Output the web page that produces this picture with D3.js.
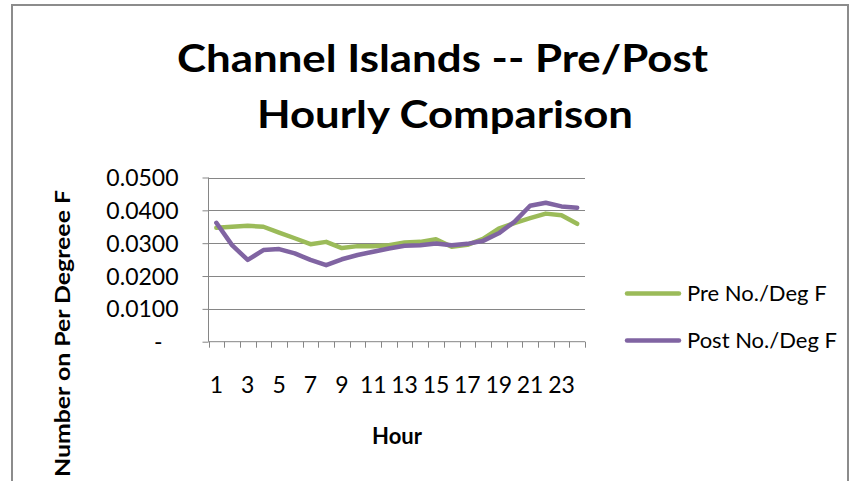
<!DOCTYPE html>
<html>
<head>
<meta charset="utf-8">
<script src="https://cdn.jsdelivr.net/npm/d3@7"></script>
<style>
  html, body { margin: 0; padding: 0; background: #fff; }
  svg { display: block; }
  text { font-family: Lato, "Open Sans", sans-serif; fill: #000; }
</style>
</head>
<body>
<svg id="chart" width="862" height="481"></svg>
<script>
const hours = d3.range(1, 25);
const preValues = [0.0347, 0.0350, 0.0353, 0.0350, 0.0332, 0.0315, 0.0297, 0.0304, 0.0285, 0.0291,
                   0.0291, 0.0294, 0.0302, 0.0304, 0.0312, 0.0289, 0.0295, 0.0313, 0.0344, 0.0361,
                   0.0376, 0.0390, 0.0385, 0.0359];
const postValues = [0.0362, 0.0294, 0.0249, 0.0279, 0.0282, 0.0269, 0.0249, 0.0233, 0.0251, 0.0264,
                    0.0274, 0.0284, 0.0292, 0.0294, 0.0299, 0.0294, 0.0298, 0.0307, 0.0330, 0.0365,
                    0.0414, 0.0423, 0.0412, 0.0408];
const yTicks = [0, 0.01, 0.02, 0.03, 0.04, 0.05];
const seriesNames = ["Pre No./Deg F", "Post No./Deg F"];
const titleLines = ["Channel Islands -- Pre/Post", "Hourly Comparison"];

const colors = ["#9BBB59", "#8064A2"];
const svg = d3.select("#chart");

// outer chart frame
svg.append("rect").attr("x", 12).attr("y", 5).attr("width", 836).attr("height", 500)
  .attr("fill", "#fff").attr("stroke", "#8c8c8c").attr("stroke-width", 2);

const pLeft = 208.5, pRight = 585, pTop = 177.5, pBottom = 341.7;
const x = d3.scaleBand().domain(hours).range([pLeft, pRight]);
const y = d3.scaleLinear().domain([0, 0.05]).range([pBottom, pTop]);

// gridlines
svg.append("g").selectAll("line").data(yTicks.filter(d => d > 0)).join("line")
  .attr("x1", pLeft).attr("x2", pRight)
  .attr("y1", d => Math.round(y(d)) + 0.5).attr("y2", d => Math.round(y(d)) + 0.5)
  .attr("stroke", "#868686").attr("stroke-width", 1);

// y axis
const yAxis = d3.axisLeft(y).tickValues(yTicks).tickSize(6)
  .tickFormat(d => d === 0 ? "-" : d3.format(".4f")(d));
const gy = svg.append("g").attr("transform", `translate(${pLeft},0)`).call(yAxis);
gy.select(".domain").attr("stroke", "#868686").attr("d", `M0,${pTop}V${pBottom}`);
gy.selectAll(".tick line").attr("stroke", "#868686");
gy.selectAll(".tick text").attr("font-family", "Lato, sans-serif").attr("font-size", 23)
  .attr("fill", "#000").attr("x", d => d === 0 ? -46 : -30).attr("dy", "0.35em");

// x axis: tick marks at category boundaries
const gx = svg.append("g");
gx.append("line").attr("x1", pLeft).attr("x2", pRight).attr("y1", pBottom).attr("y2", pBottom)
  .attr("stroke", "#868686");
const bounds = hours.map(h => x(h)).concat([pRight]);
gx.selectAll("line.tk").data(bounds).join("line").attr("class", "tk")
  .attr("x1", d => Math.round(d) + 0.5).attr("x2", d => Math.round(d) + 0.5)
  .attr("y1", pBottom).attr("y2", pBottom + 6).attr("stroke", "#868686");
gx.selectAll("text").data(hours.filter(h => h % 2 === 1)).join("text")
  .attr("x", d => x(d) + x.bandwidth() / 2).attr("y", 393)
  .attr("text-anchor", "middle").attr("font-size", 23).text(d => d);

// lines
const line = d3.line().x((d, i) => x(hours[i]) + x.bandwidth() / 2).y(d => y(d));
[preValues, postValues].forEach((vals, k) => {
  svg.append("path").datum(vals).attr("d", line).attr("fill", "none")
    .attr("stroke", colors[k]).attr("stroke-width", 4.5)
    .attr("stroke-linejoin", "round").attr("stroke-linecap", "round");
});

// title
titleLines.forEach((t, i) => {
  svg.append("text").attr("x", [442.5, 445][i]).attr("y", [72, 128][i])
    .attr("text-anchor", "middle").attr("font-weight", "bold").attr("font-size", 38)
    .attr("textLength", [531, 376][i]).attr("lengthAdjust", "spacingAndGlyphs").text(t);
});

// axis titles
svg.append("text").attr("x", 397).attr("y", 444).attr("text-anchor", "middle")
  .attr("font-weight", "bold").attr("font-size", 22).text("Hour");
svg.append("text").attr("transform", "translate(70,333.5) rotate(-90)")
  .attr("text-anchor", "middle").attr("font-weight", "bold").attr("font-size", 21)
  .attr("textLength", 287).attr("lengthAdjust", "spacingAndGlyphs").text("Number on Per Degreee F");

// legend
const legY = [293.5, 340.5];
seriesNames.forEach((n, i) => {
  svg.append("line").attr("x1", 627).attr("x2", 679).attr("y1", legY[i]).attr("y2", legY[i])
    .attr("stroke", colors[i]).attr("stroke-width", 4.5).attr("stroke-linecap", "round");
  svg.append("text").attr("x", 687).attr("y", legY[i]).attr("dy", "0.35em")
    .attr("font-size", 22).text(n);
});
</script>
</body>
</html>
